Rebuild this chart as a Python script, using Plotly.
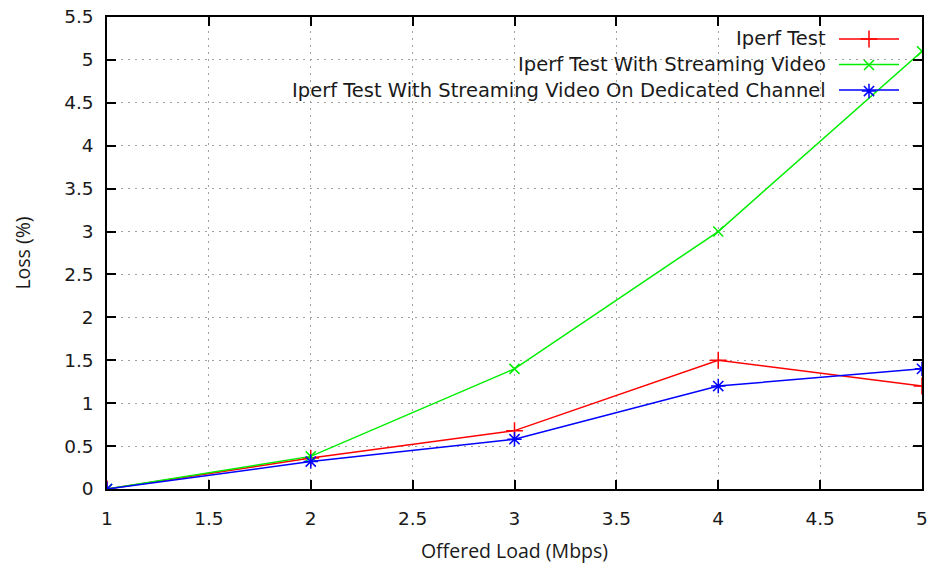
import plotly.graph_objects as go

# ---- data ----
offered_load = [1, 2, 3, 4, 5]
iperf_test = [0, 0.36, 0.68, 1.5, 1.2]
iperf_streaming = [0, 0.38, 1.4, 3.0, 5.1]
iperf_dedicated = [0, 0.32, 0.58, 1.2, 1.4]

series_names = [
    "Iperf Test",
    "Iperf Test With Streaming Video",
    "Iperf Test With Streaming Video On Dedicated Channel",
]
series_values = [iperf_test, iperf_streaming, iperf_dedicated]
colors = ["#ff0000", "#00ee00", "#0000ff"]
symbols = ["cross-thin", "x-thin", "asterisk"]
msizes = [12, 10, 12]

W, H = 933, 568
ML, MR, MT, MB = 107, 11, 17, 79
PW = W - ML - MR
PH = H - MT - MB


def px_x(p):
    return (p - ML) / PW


def px_y(q):
    return (H - MB - q) / PH


fig = go.Figure()

for name, vals, c, s, ms in zip(series_names, series_values, colors, symbols, msizes):
    fig.add_trace(go.Scatter(
        x=offered_load, y=vals, mode="lines+markers", name=name,
        line=dict(color=c, width=1.5),
        marker=dict(symbol=s, size=ms, color=c, line=dict(color=c, width=1.5)),
        showlegend=False,
    ))

# legend marker-only entries (no data)
for name, c, s, ms in zip(series_names, colors, symbols, msizes):
    fig.add_trace(go.Scatter(
        x=[None], y=[None], mode="markers", name=" ",
        marker=dict(symbol=s, size=ms, color=c, line=dict(color=c, width=1.5)),
        showlegend=True,
    ))

shapes = [
    # white key box masking grid
    dict(type="rect", xref="paper", yref="paper", x0=px_x(200), x1=1, y0=px_y(103), y1=1,
         fillcolor="white", line=dict(width=0), layer="between"),
]
annotations = []
legend_rows = [39, 64.5, 90]
for name, c, yy in zip(series_names, colors, legend_rows):
    shapes.append(dict(type="line", xref="paper", yref="paper",
                       x0=px_x(839), x1=px_x(899), y0=px_y(yy), y1=px_y(yy),
                       line=dict(color=c, width=1.5), layer="above"))
    annotations.append(dict(text=name, xref="paper", yref="paper", x=px_x(828), y=px_y(yy),
                            xanchor="right", yanchor="middle", showarrow=False,
                            font=dict(family="DejaVu Sans", size=19.5, color="#1a1a1a")))

axis_common = dict(
    showline=True, linecolor="black", linewidth=1.5, mirror="allticks",
    ticks="inside", ticklen=9, tickwidth=1.5, tickcolor="black",
    showgrid=True, gridcolor="#a0a0a0", gridwidth=1, griddash="2px,5px",
    zeroline=False, automargin=False, ticklabeloverflow="allow",
    tickfont=dict(family="DejaVu Sans", size=18.5, color="#1a1a1a"),
)

fig.update_layout(
    width=W, height=H,
    margin=dict(l=ML, r=MR, t=MT, b=MB),
    paper_bgcolor="white", plot_bgcolor="white",
    shapes=shapes, annotations=annotations,
    legend=dict(x=px_x(849), y=px_y(21), xanchor="left", yanchor="top",
                bgcolor="rgba(0,0,0,0)", borderwidth=0,
                font=dict(family="DejaVu Sans", size=17.7),
                itemwidth=30, tracegroupgap=0),
    xaxis=dict(range=[1, 5], dtick=0.5, tick0=1, ticklabelstandoff=12,
               title=dict(text="Offered Load (Mbps)", standoff=16,
                          font=dict(family="Open Sans", size=19.5, color="#1a1a1a")),
               **axis_common),
    yaxis=dict(range=[0, 5.5], dtick=0.5, tick0=0, ticklabelstandoff=8,
               title=dict(text="Loss (%)", standoff=28,
                          font=dict(family="Open Sans", size=19.5, color="#1a1a1a")),
               **axis_common),
)

fig.write_html("out.html",
               config={"displayModeBar": False},
               post_script="document.body.style.margin='0';document.body.style.overflow='hidden';")
